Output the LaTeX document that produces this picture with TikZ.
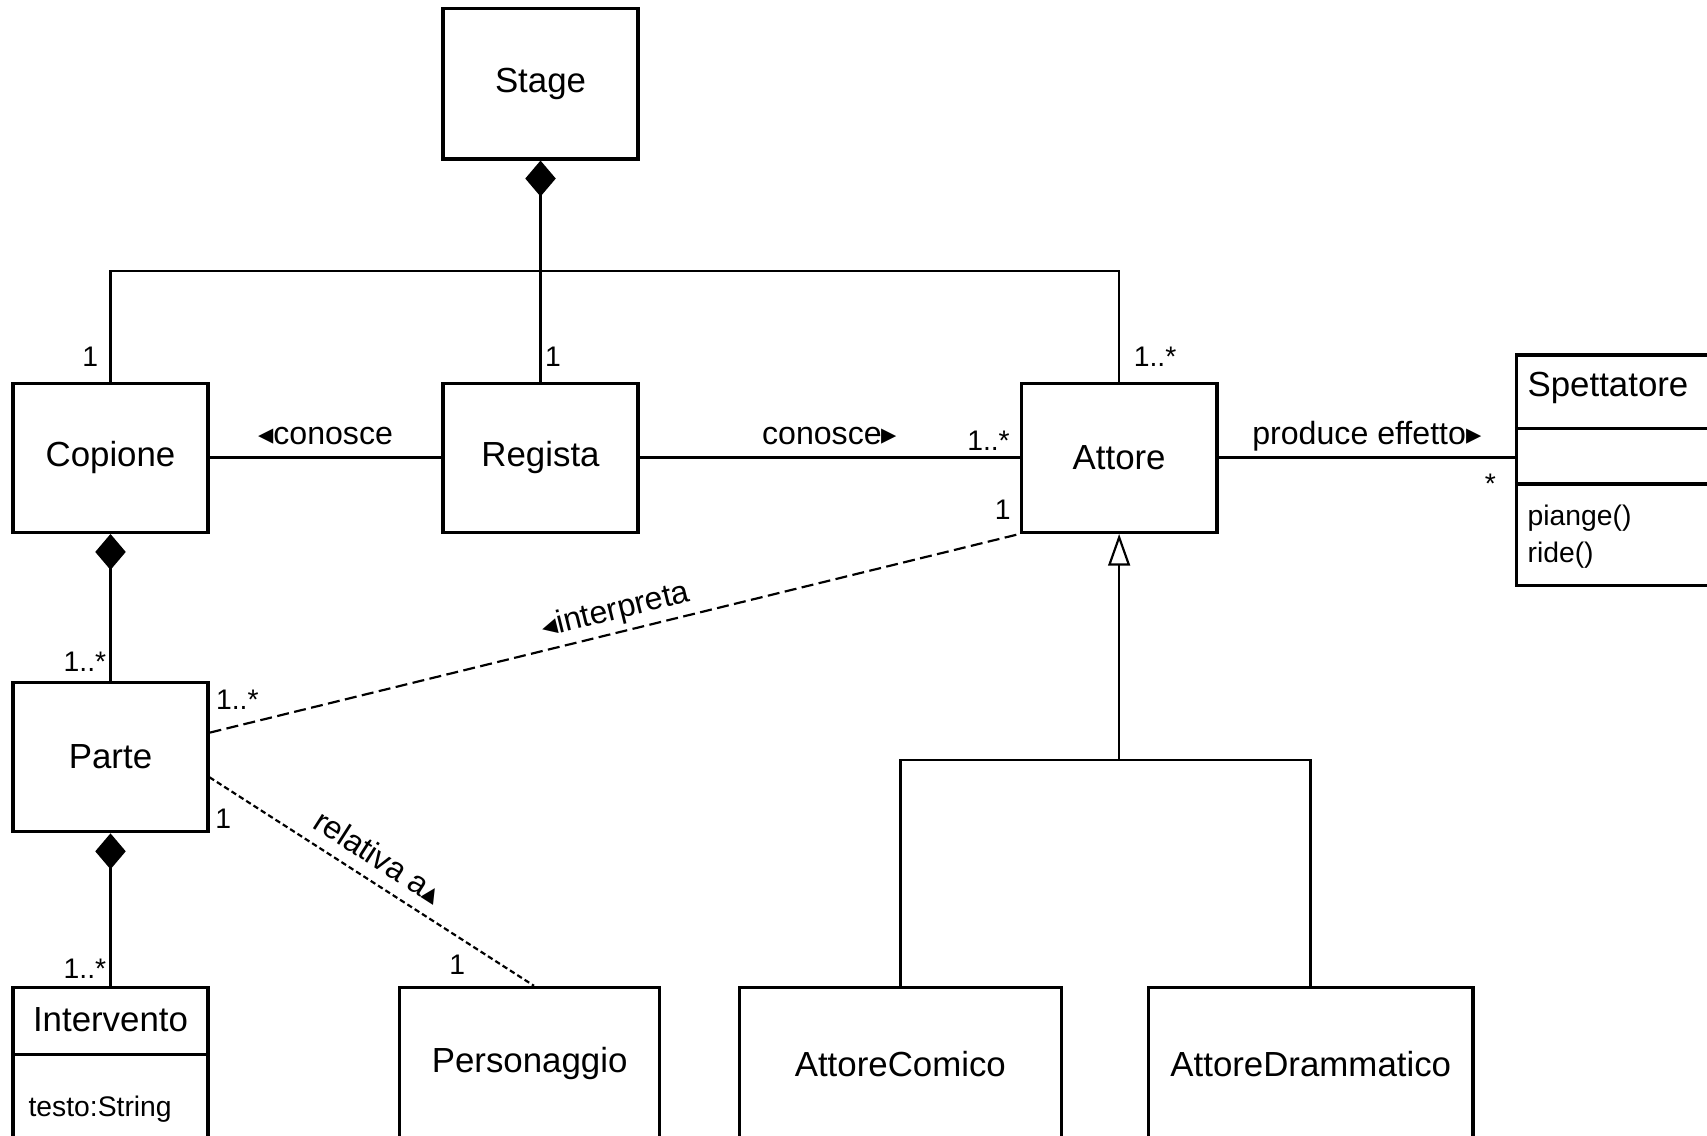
\documentclass[tikz,border=0pt]{standalone}
\usepackage{fontspec}
\setmainfont{Liberation Sans}
\newfontfamily\symfont{DejaVu Sans}
\usetikzlibrary{arrows.meta,calc}

% font sizes (1pt = one unit of the drawing grid)
\newcommand\clsfont{\fontsize{32}{38}\selectfont}
\newcommand\labfont{\fontsize{29.5}{35}\selectfont}
\newcommand\mulfont{\fontsize{26}{31}\selectfont}
% small direction markers for association names
\newcommand\ltri{{\symfont\fontsize{28}{30}\selectfont ◂}}
\newcommand\rtri{{\symfont\fontsize{28}{30}\selectfont ▸}}
\newcommand\utri{{\symfont\fontsize{28}{30}\selectfont ▴}}

\begin{document}
\begin{tikzpicture}[x=1pt,y=-1pt,
  cls/.style={draw, line width=3pt, inner sep=0pt, font=\clsfont},
  conn/.style={line width=2.4pt},
  comp/.style={conn, -{Diamond[length=33pt,width=28pt]}},
  gen/.style={line width=2pt, -{Triangle[open,length=29pt,width=20pt,line width=2pt]}},
  dashA/.style={line width=2pt, dash pattern=on 11pt off 5pt},
  dashB/.style={line width=2pt, dash pattern=on 5pt off 3pt},
  mult/.style={font=\mulfont, inner sep=0pt},
  txt/.style={font=\clsfont, inner sep=0pt},
  small/.style={font=\mulfont, inner sep=0pt, anchor=west},
  rolelab/.style={font=\labfont, anchor=base, yshift=12pt, inner sep=0pt}
]
\clip (0,0) rectangle (1568,1043);
\fill[white] (0,0) rectangle (1568,1043);

% classes
\node[cls, minimum width=179pt, minimum height=138pt] (stage)   at (496.5,77)    {Stage};
\node[cls, minimum width=179pt, minimum height=137pt] (copione) at (101.5,420.5) {Copione};
\node[cls, minimum width=179pt, minimum height=137pt] (regista) at (496.5,420.5) {Regista};
\node[cls, minimum width=180pt, minimum height=137pt] (attore)  at (1028,420.5)  {Attore};
\node[cls, minimum width=179pt, minimum height=137pt] (parte)   at (101.5,695.5) {Parte};
\node[cls, minimum width=197pt, minimum height=212pt] (spett)   at (1491.5,432)  {};
\node[cls, minimum width=179pt, minimum height=200pt] (interv)  at (101.5,1007)  {};
\node[cls, minimum width=239pt, minimum height=140pt] (pers)    at (486.5,977)   {Personaggio};
\node[cls, minimum width=296pt, minimum height=140pt] (acomico) at (827,977)     {AttoreComico};
\node[cls, minimum width=298pt, minimum height=140pt] (adramm)  at (1204,977)    {AttoreDrammatico};

% compartments
\draw[line width=3pt] ([yshift=-69pt]spett.north west) -- ([yshift=-69pt]spett.north east);
\draw[line width=3pt] ([yshift=-120pt]spett.north west) -- ([yshift=-120pt]spett.north east);
\draw[line width=3pt] ([yshift=-63pt]interv.north west) -- ([yshift=-63pt]interv.north east);

\node[txt, anchor=west] (spett-name) at (1403,356) {Spettatore};
\node[small] (op1) at (1403,476) {piange()};
\node[small] (op2) at (1403,510) {ride()};
\node[txt] (interv-name) at (101.5,937) {Intervento};
\node[small] (attr1) at (26,1019) {testo:String};

% composition of the stage
\draw[comp] (regista.north) -- (stage.south);
\coordinate (bar) at (496.5,249);
\draw[conn] (copione.north) |- (bar) -| (attore.north);

% associations
\draw[conn] (copione) -- node[rolelab] {\ltri conosce} (regista);
\draw[conn] (regista) -- node[rolelab] {conosce\rtri} (attore);
\draw[conn] (attore.east) -- node[rolelab] {produce effetto\rtri} (attore.east -| spett.west);

\draw[comp] (parte.north) -- (copione.south);
\draw[comp] (interv.north) -- (parte.south);

\draw[dashA] ([yshift=22.5pt]parte.east) -- node[rolelab, sloped, pos=0.508] {\ltri interpreta} (attore.south west);
\draw[dashB] ([yshift=-18.5pt]parte.east) -- node[rolelab, sloped, pos=0.48] {relativa a\utri} ([xshift=4pt]pers.north);

% generalization
\coordinate (gj) at (1028,698);
\draw[gen] (gj) -- (attore.south);
\draw[conn] (acomico.north) |- (gj) -| (adramm.north);

% multiplicities
\node[mult] (m1)  at (83,328)   {1};
\node[mult] (m2)  at (508,328)  {1};
\node[mult] (m3)  at (1061,328) {1..*};
\node[mult] (m4)  at (908,405)  {1..*};
\node[mult] (m5)  at (921,468)  {1};
\node[mult] (m6)  at (1369,444) {*};
\node[mult] (m7)  at (78,608)   {1..*};
\node[mult] (m8)  at (218,643)  {1..*};
\node[mult] (m9)  at (205,752)  {1};
\node[mult] (m10) at (420,886)  {1};
\node[mult] (m11) at (78,890)   {1..*};
\end{tikzpicture}
\end{document}
